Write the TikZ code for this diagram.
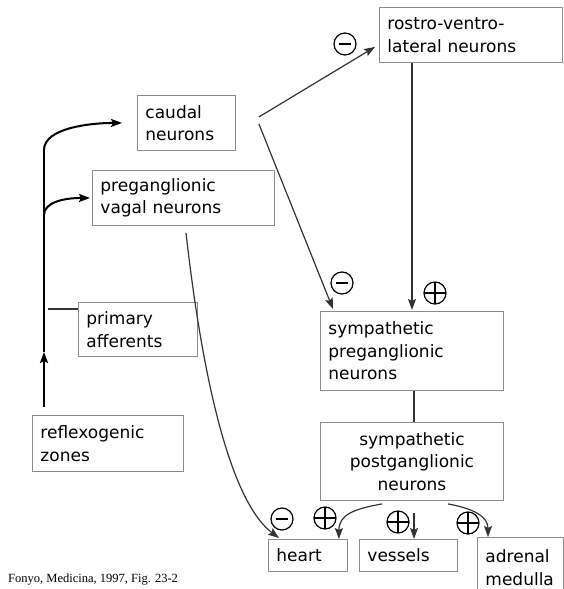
\documentclass[tikz,border=0pt]{standalone}
\usepackage{fontspec}
\setmainfont{DejaVu Sans}
\newfontfamily\citefont{Liberation Serif}
\usetikzlibrary{calc}
\usetikzlibrary{arrows.meta}

\tikzset{
  box/.style={draw=black!45, line width=0.9pt, anchor=north west, align=left,
    inner xsep=8pt, inner ysep=0pt, font=\fontsize{17}{22.5}\selectfont},
  conn/.style={draw=black!80, line width=1.2pt},
  trunk/.style={draw=black, line width=2pt},
  tip/.style={-{Stealth[length=11pt,width=8pt,inset=2pt]}},
  inhib/.style={circle, draw, minimum size=22pt, inner sep=0pt, line width=1.2pt,
    path picture={\draw[line width=1.2pt] ([xshift=5pt]path picture bounding box.west)
      -- ([xshift=-5pt]path picture bounding box.east);}},
  excit/.style={circle, draw, minimum size=22pt, inner sep=0pt, line width=1.2pt,
    path picture={\draw[line width=1.2pt] (path picture bounding box.west)
      -- (path picture bounding box.east) (path picture bounding box.north)
      -- (path picture bounding box.south);}}
}

\begin{document}
\begin{tikzpicture}[x=1pt, y=-1pt]
  \useasboundingbox (0,0) rectangle (564,589);
  \clip (0,0) rectangle (564,589);

  % boxes
  \node[box, text width=82pt, minimum height=55pt] (caudal) at (137,95) {caudal\\neurons};
  \node[box, text width=166pt, minimum height=55pt] (vagal) at (92,170) {preganglionic\\vagal neurons};
  \node[box, text width=167pt, minimum height=55pt] (rvl) at (379,7) {rostro-ventro-\\lateral neurons};
  \node[box, text width=167pt, minimum height=79pt] (sympre) at (320,311) {sympathetic\\preganglionic\\neurons};
  \node[box, text width=167pt, minimum height=78pt, align=center] (sympost) at (320,422) {sympathetic\\postganglionic\\neurons};
  \node[box, text width=63pt, minimum height=32pt] (heart) at (268,539) {heart};
  \node[box, text width=82pt, minimum height=32pt] (vessels) at (359,539) {vessels};
  \node[box, text width=70pt, minimum height=60pt] (adrenal) at (477,537) {adrenal\\medulla};
  \node[box, text width=103pt, minimum height=54pt] (primary) at (78,302) {primary\\afferents};
  \node[box, text width=135pt, minimum height=56pt] (reflex) at (32,415) {reflexogenic\\zones};

  % afferent trunk
  \coordinate (t0) at ($(reflex.north west)+(12,-8)$);
  \coordinate (up) at (44,352);
  \coordinate (k1) at (44,150);
  \coordinate (k2) at (44,215);
  \draw[trunk,tip] (t0) -- (up);
  \draw[trunk] (up) -- (k1);
  \draw[trunk,tip,shorten >=15pt] (k1) .. controls +(0,-22) and +(-47,0) .. (caudal.west);
  \draw[trunk,tip,shorten >=2pt] (k2) .. controls +(0,-12) and +(-30,0) .. (vagal.west);
  \draw[conn] ($(primary.north west)+(0,7)$) -- ++(-30,0);

  % central connections
  \draw[conn,tip] ($(caudal.east)+(23,-6)$) -- ($(rvl.west)+(-4,12)$);
  \draw[conn,tip] ($(caudal.east)+(23,1)$) -- ($(sympre.north west)+(13,-2)$);
  \draw[conn,tip] ($(rvl.south west)+(33,0)$) -- ($(sympre.north west)+(92,-1)$);
  \draw[conn] ($(sympre.south west)+(94,0)$) -- ($(sympost.north west)+(94,0)$);

  % efferents
  \draw[conn,tip] ($(vagal.south west)+(94,7)$) .. controls +(19,168) and +(-44,-33) .. ($(heart.north west)+(11,-1)$);
  \draw[conn,tip] ($(sympost.south west)+(62,3)$) .. controls +(-27,5) and +(0,-25) .. ($(heart.north east)+(-9,0)$);
  \draw[conn,tip] ($(sympost.south west)+(94,12)$) -- ($(vessels.north west)+(55,0)$);
  \draw[conn,tip] ($(sympost.south west)+(128,3)$) .. controls +(27,5) and +(0,-20) .. ($(adrenal.north west)+(11,0)$);

  % signs
  \node[inhib] (s1) at (345,44) {};
  \node[inhib] (s2) at (342,283) {};
  \node[excit] (s3) at (435,293) {};
  \node[inhib] (s4) at (282,519) {};
  \node[excit] (s5) at (325,518) {};
  \node[excit] (s6) at (398,522) {};
  \node[excit] (s7) at (468,523) {};

  \node[anchor=base west, inner sep=0pt, font=\citefont\fontsize{12.5}{14}\selectfont] (cite) at (8,582) {Fonyo, Medicina, 1997, Fig. 23-2};
\end{tikzpicture}
\end{document}
